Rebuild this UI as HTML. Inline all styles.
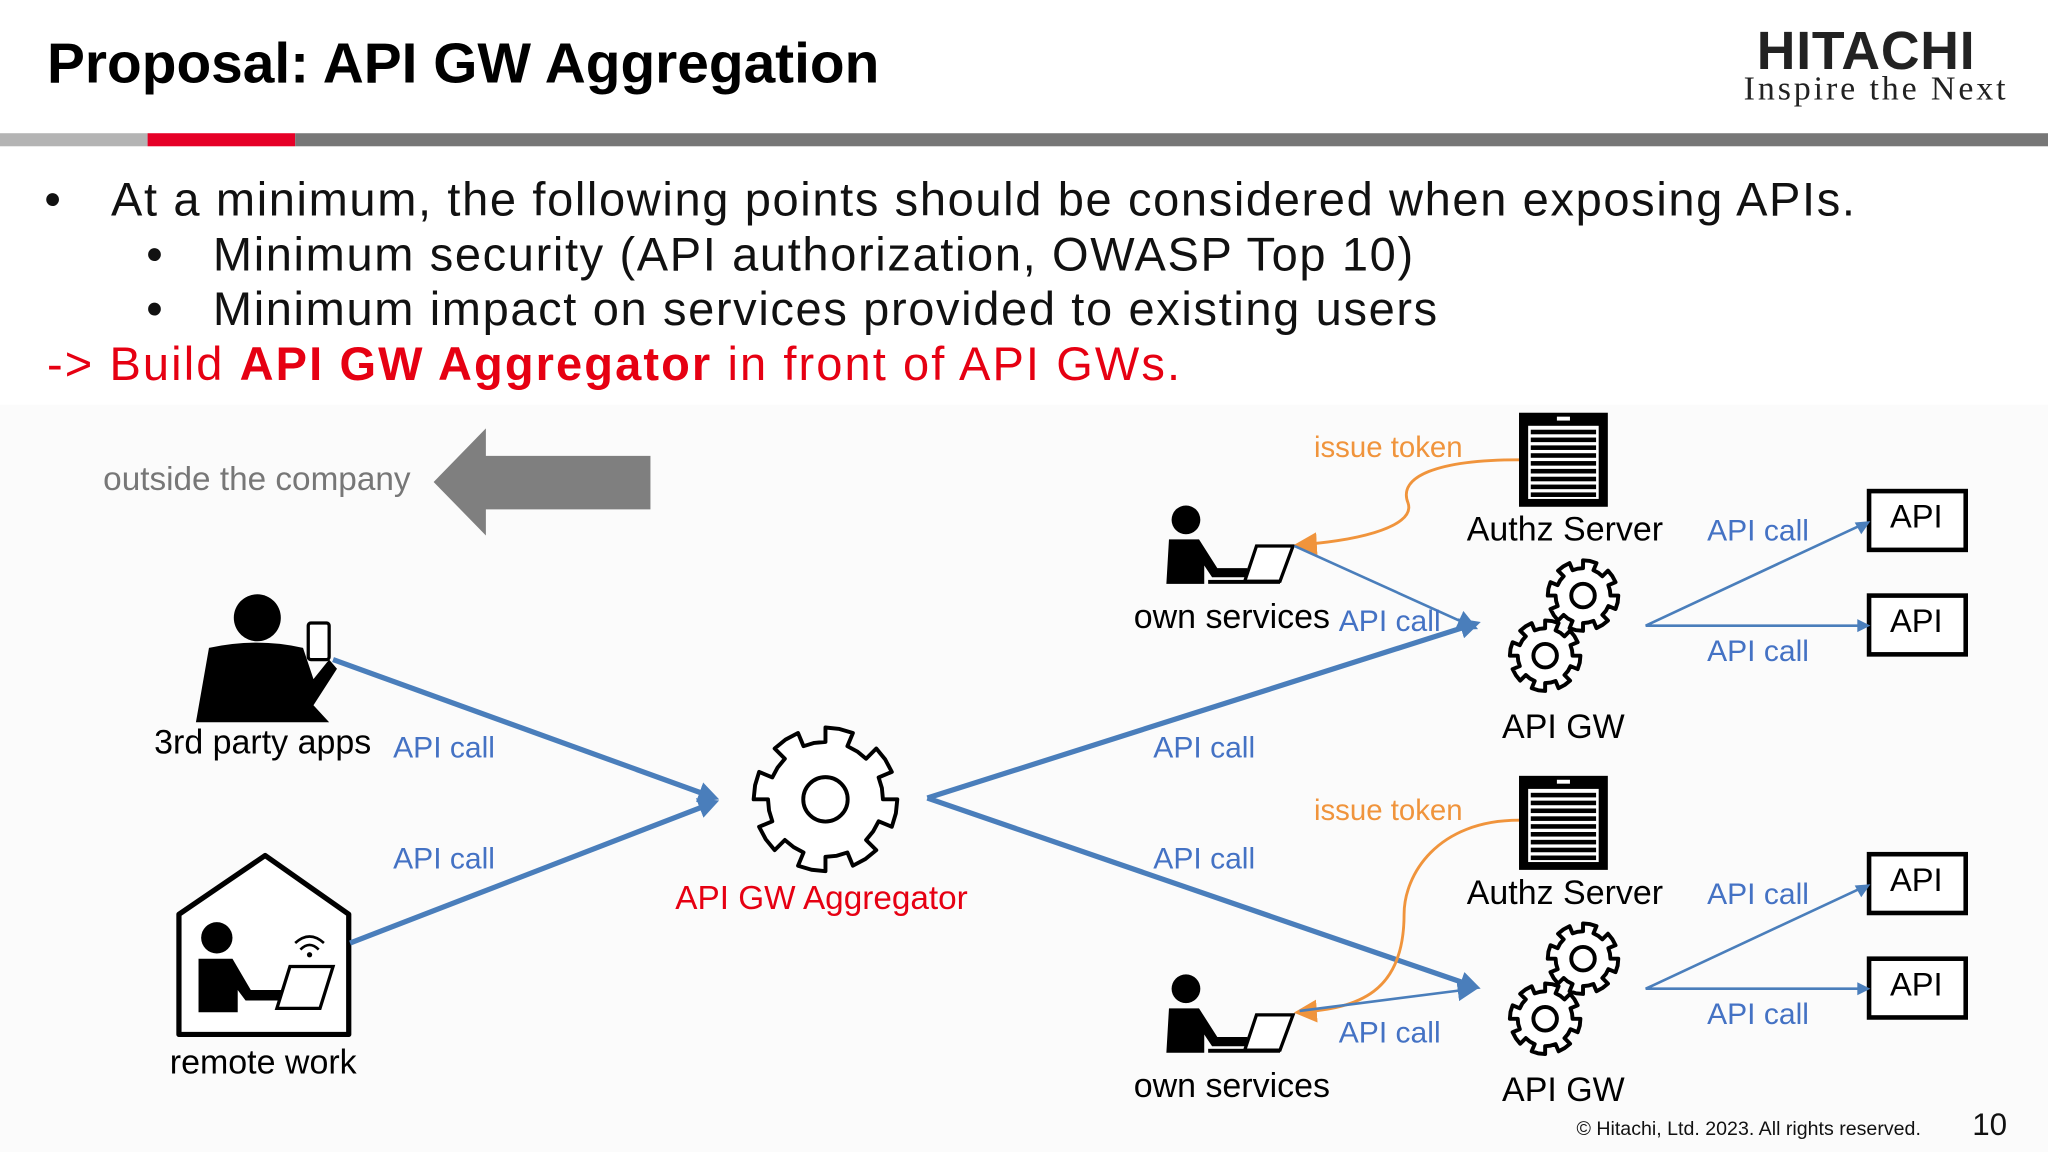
<!DOCTYPE html>
<html><head><meta charset="utf-8">
<style>
html,body{margin:0;padding:0;background:#fff;}
#wrap{width:2048px;height:1152px;overflow:hidden;position:relative;}
#s{width:1568px;height:882px;position:absolute;left:0;top:0;transform:scale(1.306122);transform-origin:0 0;font-family:"Liberation Sans",sans-serif;}
.t{position:absolute;white-space:nowrap;}
.b{font-size:36px;letter-spacing:1.25px;color:#111}
.l{font-size:26px}
</style></head><body>
<div id="wrap"><div id="s">
<svg width="1568" height="882" style="position:absolute;left:0;top:0" xmlns="http://www.w3.org/2000/svg">
<defs>
<marker id="ab" markerWidth="4" markerHeight="4" refX="2.5" refY="2" orient="auto" markerUnits="strokeWidth"><path d="M0,0 L4,2 L0,4 z" fill="#4a7ebb"/></marker>
<marker id="as" markerWidth="8" markerHeight="8" refX="6" refY="4" orient="auto" markerUnits="strokeWidth"><path d="M0,0 L8,4 L0,8 z" fill="#4a7ebb"/></marker>
<marker id="ao" markerWidth="8" markerHeight="8" refX="6" refY="4" orient="auto" markerUnits="strokeWidth"><path d="M0,0 L8,4 L0,8 z" fill="#f0943c"/></marker>
</defs>
<rect x="0" y="310" width="1568" height="572" fill="#fbfbfb"/>
<rect x="0" y="102" width="113" height="10" fill="#b4b4b4"/>
<rect x="113" y="102" width="113" height="10" fill="#e60027"/>
<rect x="226" y="102" width="1342" height="10" fill="#777"/>
<polygon points="332,369 372,328 372,349 498,349 498,390 372,390 372,410" fill="#7f7f7f"/>
<circle cx="197" cy="473" r="18" fill="#000"/>
<path d="M160,496 Q197,488 232,496 L240,520 L252,505 L258,512 L240,540 L252,553 L150,553 Z" fill="#000"/>
<rect x="236" y="477" width="16" height="28" rx="2" fill="#fff" stroke="#000" stroke-width="2.5"/>
<path d="M137,700 L203,655 L267,700 L267,792 L137,792 Z" fill="#fff" stroke="#000" stroke-width="4" stroke-linejoin="round"/>
<circle cx="166" cy="718" r="12" fill="#000"/>
<path d="M152,734 L178,734 L192,758 L220,758 L220,766 L188,766 L182,758 L182,775 L152,775 Z" fill="#000"/>
<path d="M222,740 L255,740 L245,772 L212,772 Z" fill="#fff" stroke="#000" stroke-width="2.5"/>
<path d="M226,722 Q237,712 248,722 M230,727 Q237,720 244,727" fill="none" stroke="#000" stroke-width="2"/>
<circle cx="237" cy="731" r="2" fill="#000"/>
<line x1="255" y1="505" x2="545" y2="610" stroke="#4a7ebb" stroke-width="4" marker-end="url(#ab)"/>
<line x1="268" y1="722" x2="545" y2="615" stroke="#4a7ebb" stroke-width="4" marker-end="url(#ab)"/>
<line x1="710" y1="611" x2="1128" y2="478" stroke="#4a7ebb" stroke-width="4" marker-end="url(#ab)"/>
<line x1="710" y1="611" x2="1128" y2="755" stroke="#4a7ebb" stroke-width="4" marker-end="url(#ab)"/>
<g id="gears"></g>
<g id="top"></g>
</svg>
<div class="t" style="left:36px;top:25px;font-size:43.5px;font-weight:bold;color:#000">Proposal: API GW Aggregation</div>
<div class="t" style="left:1345px;top:16px;font-size:41px;font-weight:bold;letter-spacing:0.6px;color:#222">HITACHI</div>
<div class="t" style="left:1335px;top:53px;font-size:26px;letter-spacing:2.2px;font-family:'Liberation Serif',serif;color:#222">Inspire the Next</div>
<div class="t b" style="left:34px;top:132px">•</div>
<div class="t b" style="left:85px;top:132px">At a minimum, the following points should be considered when exposing APIs.</div>
<div class="t b" style="left:112px;top:174px">•</div>
<div class="t b" style="left:163px;top:174px">Minimum security (API authorization, OWASP Top 10)</div>
<div class="t b" style="left:112px;top:216px">•</div>
<div class="t b" style="left:163px;top:216px">Minimum impact on services provided to existing users</div>
<div class="t b" style="left:36px;top:258px;color:#e60012;letter-spacing:1.6px">-&gt; Build <b>API GW Aggregator</b> in front of API GWs.</div>
<div class="t" style="left:79px;top:353px;font-size:25.5px;color:#777">outside the company</div>
<div class="t l" style="left:118px;top:553px">3rd party apps</div>
<div class="t l" style="left:130px;top:798px">remote work</div>
<div class="t" style="left:517px;top:674px;font-size:25.5px;color:#e60012">API GW Aggregator</div>
<div class="t" style="left:301px;top:559px;font-size:23px;color:#4472c4">API call</div>
<div class="t" style="left:301px;top:644px;font-size:23px;color:#4472c4">API call</div>
<div class="t" style="left:883px;top:559px;font-size:23px;color:#4472c4">API call</div>
<div class="t" style="left:883px;top:644px;font-size:23px;color:#4472c4">API call</div>
<div id="txt"></div>
<div class="t" style="left:1207px;top:856px;font-size:15px;color:#111">© Hitachi, Ltd. 2023. All rights reserved.</div>
<div class="t" style="left:1510px;top:848px;font-size:24px;color:#111">10</div>
</div></div>
<script>
function gear(cx,cy,R,r,h,n){
  var d="",N=n*4;
  for(var i=0;i<N;i++){
    var a0=(i/N)*2*Math.PI, a1=((i+1)/N)*2*Math.PI;
    var rad=(i%4<2)?R:R-h;
    var p0=[cx+rad*Math.cos(a0),cy+rad*Math.sin(a0)];
    var p1=[cx+rad*Math.cos(a1),cy+rad*Math.sin(a1)];
    d+=(i==0?"M":"L")+p0[0].toFixed(1)+","+p0[1].toFixed(1)+"L"+p1[0].toFixed(1)+","+p1[1].toFixed(1);
  }
  d+="Z";
  return '<path d="'+d+'" fill="#fff" stroke="#000" stroke-width="3" stroke-linejoin="round"/><circle cx="'+cx+'" cy="'+cy+'" r="'+r+'" fill="none" stroke="#000" stroke-width="3"/>';
}
var g="";
g+=gear(632,612,55,17,11,8);
var svg="";
var txt="";
[0,278].forEach(function(o,k){
  g+=gear(1212,456+o,27,9,6,8);
  g+=gear(1183,502+o,27,9,6,8);
  svg+='<rect x="1163" y="'+(316+o)+'" width="68" height="72" fill="#000"/>';
  svg+='<rect x="1170" y="'+(326+o)+'" width="54" height="56" fill="#fff"/>';
  for(var i=0;i<9;i++) svg+='<rect x="1172" y="'+(329+o+i*6)+'" width="50" height="3.5" fill="#000"/>';
  svg+='<rect x="1192" y="'+(319+o)+'" width="10" height="3" fill="#fff"/>';
  svg+='<rect x="1431" y="'+(376+o)+'" width="74" height="45" fill="#fff" stroke="#000" stroke-width="3.5"/>';
  svg+='<rect x="1431" y="'+(456+o)+'" width="74" height="45" fill="#fff" stroke="#000" stroke-width="3.5"/>';
  svg+='<polyline points="1427,'+(401+o)+' 1260,'+(479+o)+' 1427,'+(479+o)+'" fill="none" stroke="#4a7ebb" stroke-width="2"/>';
  svg+='<path d="M1432,'+(399+o)+' l-12,1 l5,9 z" fill="#4a7ebb"/>';
  svg+='<path d="M1432,'+(479+o)+' l-10,-5 l0,10 z" fill="#4a7ebb"/>';
  txt+='<div class="t" style="left:1447px;top:'+(382+o)+'px;font-size:25px">API</div>';
  txt+='<div class="t" style="left:1447px;top:'+(462+o)+'px;font-size:25px">API</div>';
  txt+='<div class="t" style="left:1307px;top:'+(393+o)+'px;font-size:23px;color:#4472c4">API call</div>';
  txt+='<div class="t" style="left:1307px;top:'+(485+o)+'px;font-size:23px;color:#4472c4">API call</div>';
  txt+='<div class="t l" style="left:1123px;top:'+(390+o)+'px">Authz Server</div>';
  txt+='<div class="t l" style="left:1150px;top:'+(541+o)+'px">API GW</div>';
  txt+='<div class="t" style="left:1006px;top:'+(330+o)+'px;font-size:22.5px;color:#f0943c">issue token</div>';
});
function person(y){
  return '<circle cx="908" cy="'+(y+11)+'" r="11" fill="#000"/>'+
   '<path d="M895,'+(y+26)+' L918,'+(y+26)+' L932,'+(y+48)+' L955,'+(y+48)+' L955,'+(y+55)+' L928,'+(y+55)+' L922,'+(y+46)+' L922,'+(y+60)+' L893,'+(y+60)+' Z" fill="#000"/>'+
   '<path d="M962,'+(y+31)+' L990,'+(y+31)+' L980,'+(y+58)+' L953,'+(y+58)+' Z" fill="#fff" stroke="#000" stroke-width="2.5"/>'+
   '<rect x="925" y="'+(y+57)+'" width="55" height="3" fill="#000"/>';
}
svg+=person(387);
svg+=person(746);
svg+='<path d="M1163,352 C1100,352 1070,365 1078,385 C1085,405 1030,415 995,417" fill="none" stroke="#f0943c" stroke-width="2.2" marker-end="url(#ao)"/>';
svg+='<line x1="991" y1="418" x2="1128" y2="480" stroke="#4a7ebb" stroke-width="2" marker-end="url(#as)"/>';
svg+='<path d="M1163,628 C1100,628 1075,670 1075,700 C1075,760 1040,772 995,775" fill="none" stroke="#f0943c" stroke-width="2.2" marker-end="url(#ao)"/>';
svg+='<line x1="995" y1="774" x2="1128" y2="757" stroke="#4a7ebb" stroke-width="2" marker-end="url(#as)"/>';
document.getElementById("gears").innerHTML=g;
document.getElementById("top").innerHTML=svg;
txt+='<div class="t l" style="left:868px;top:457px">own services</div>';
txt+='<div class="t" style="left:1025px;top:462px;font-size:23px;color:#4472c4">API call</div>';
txt+='<div class="t l" style="left:868px;top:816px">own services</div>';
txt+='<div class="t" style="left:1025px;top:777px;font-size:23px;color:#4472c4">API call</div>';
document.getElementById("txt").innerHTML=txt;
</script>
</body></html>
